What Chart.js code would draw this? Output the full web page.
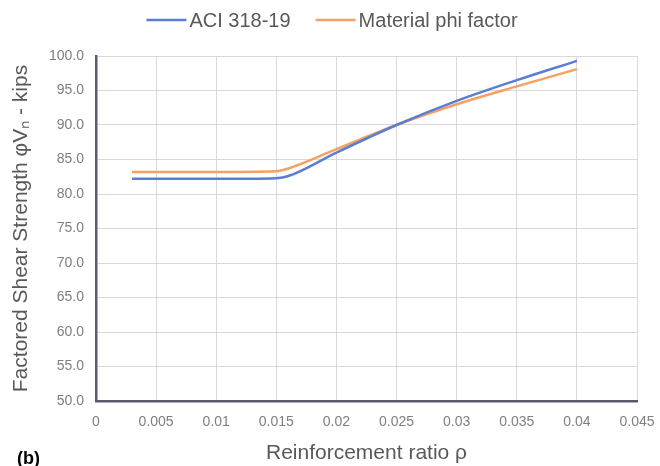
<!DOCTYPE html>
<html>
<head>
<meta charset="utf-8">
<script src="https://cdn.jsdelivr.net/npm/chart.js@4"></script>
<style>
  html, body { margin: 0; padding: 0; background: #fff; }
  #wrap { width: 660px; height: 466px; position: relative; }
</style>
</head>
<body>
<div id="wrap"><canvas id="shearChart" width="660" height="466"></canvas></div>
<script>
// reinforcement ratio values (x)
const rho = [0.003, 0.005, 0.01, 0.015, 0.016, 0.02, 0.025, 0.03, 0.035, 0.04];
// factored shear strength, kips
const aci = [82.2, 82.2, 82.2, 82.3, 82.6, 86.0, 90.0, 93.5, 96.5, 99.3];
const materialPhi = [83.2, 83.2, 83.2, 83.3, 83.7, 86.5, 90.0, 93.0, 95.6, 98.1];
const seriesNames = ['ACI 318-19', 'Material phi factor'];

const FONT = '"Liberation Sans", Arial, sans-serif';
const toPoints = (ys) => rho.map((x, i) => ({ x: x, y: ys[i] }));

// legend drawn by hand so the line/text spacing is like the Excel one
const topLegend = {
    id: 'topLegend',
    afterDraw(chart) {
        const c = chart.ctx;
        c.save();
        c.font = '20px ' + FONT;
        c.textBaseline = 'middle';
        const lineW = 40, gap = 3, itemGap = 25, y = 20;
        const items = chart.data.datasets.map(ds => ({
            text: ds.label, color: ds.borderColor, w: lineW + gap + c.measureText(ds.label).width
        }));
        const total = items.reduce((a, it) => a + it.w, 0) + itemGap * (items.length - 1);
        let x = 332 - total / 2;
        items.forEach(it => {
            c.strokeStyle = it.color;
            c.lineWidth = 2.5;
            c.beginPath();
            c.moveTo(x, y);
            c.lineTo(x + lineW, y);
            c.stroke();
            c.fillStyle = '#595959';
            c.fillText(it.text, x + lineW + gap, y + 1);
            x += it.w + itemGap;
        });
        c.restore();
    }
};

// "(b)" panel label bottom-left
const panelLabel = {
    id: 'panelLabel',
    afterDraw(chart) {
        const c = chart.ctx;
        c.save();
        c.font = 'bold 18px ' + FONT;
        c.fillStyle = '#000';
        c.fillText('(b)', 17, 464);
        c.restore();
    }
};

new Chart(document.getElementById('shearChart').getContext('2d'), {
    type: 'line',
    data: {
        datasets: [{
            label: seriesNames[0],
            data: toPoints(aci),
            borderColor: '#5a7ed2',
            backgroundColor: '#5a7ed2',
            borderWidth: 2.5,
            pointRadius: 0,
            cubicInterpolationMode: 'monotone'
        }, {
            label: seriesNames[1],
            data: toPoints(materialPhi),
            borderColor: '#f3a263',
            backgroundColor: '#f3a263',
            borderWidth: 2.5,
            pointRadius: 0,
            cubicInterpolationMode: 'monotone'
        }]
    },
    options: {
        responsive: false,
        animation: false,
        layout: { padding: { left: 0, right: 23, top: 56, bottom: 0 } },
        plugins: {
            legend: { display: false },
            tooltip: { enabled: false }
        },
        scales: {
            x: {
                type: 'linear',
                min: 0,
                max: 0.045,
                ticks: {
                    stepSize: 0.005,
                    color: '#7f7f7f',
                    font: { family: FONT, size: 14 },
                    padding: 13,
                    maxRotation: 0,
                    callback: (v) => String(Number(v.toFixed(3)))
                },
                grid: { color: '#d9d9d9', lineWidth: 1, drawTicks: false },
                border: { color: '#5a5a6e', width: 2.5 },
                title: {
                    display: true,
                    text: 'Reinforcement ratio ρ',
                    color: '#595959',
                    font: { family: FONT, size: 21 },
                    padding: { top: 3, bottom: 0 }
                },
                afterFit: (s) => { s.height = 65; s.paddingLeft = 0; s.paddingRight = 0; }
            },
            y: {
                min: 50,
                max: 100,
                ticks: {
                    stepSize: 5,
                    color: '#7f7f7f',
                    font: { family: FONT, size: 14 },
                    callback: (v) => v.toFixed(1),
                    padding: 12
                },
                grid: { color: '#d9d9d9', lineWidth: 1, drawTicks: false },
                border: { color: '#5a5a6e', width: 2.5 },
                title: {
                    display: true,
                    text: 'Factored Shear Strength φVₙ - kips',
                    color: '#595959',
                    font: { family: FONT, size: 21 },
                    padding: { top: 9, bottom: 0 }
                },
                afterFit: (s) => { s.width = 96; s.paddingTop = 0; s.paddingBottom = 0; }
            }
        }
    },
    plugins: [topLegend, panelLabel]
});
</script>
</body>
</html>
